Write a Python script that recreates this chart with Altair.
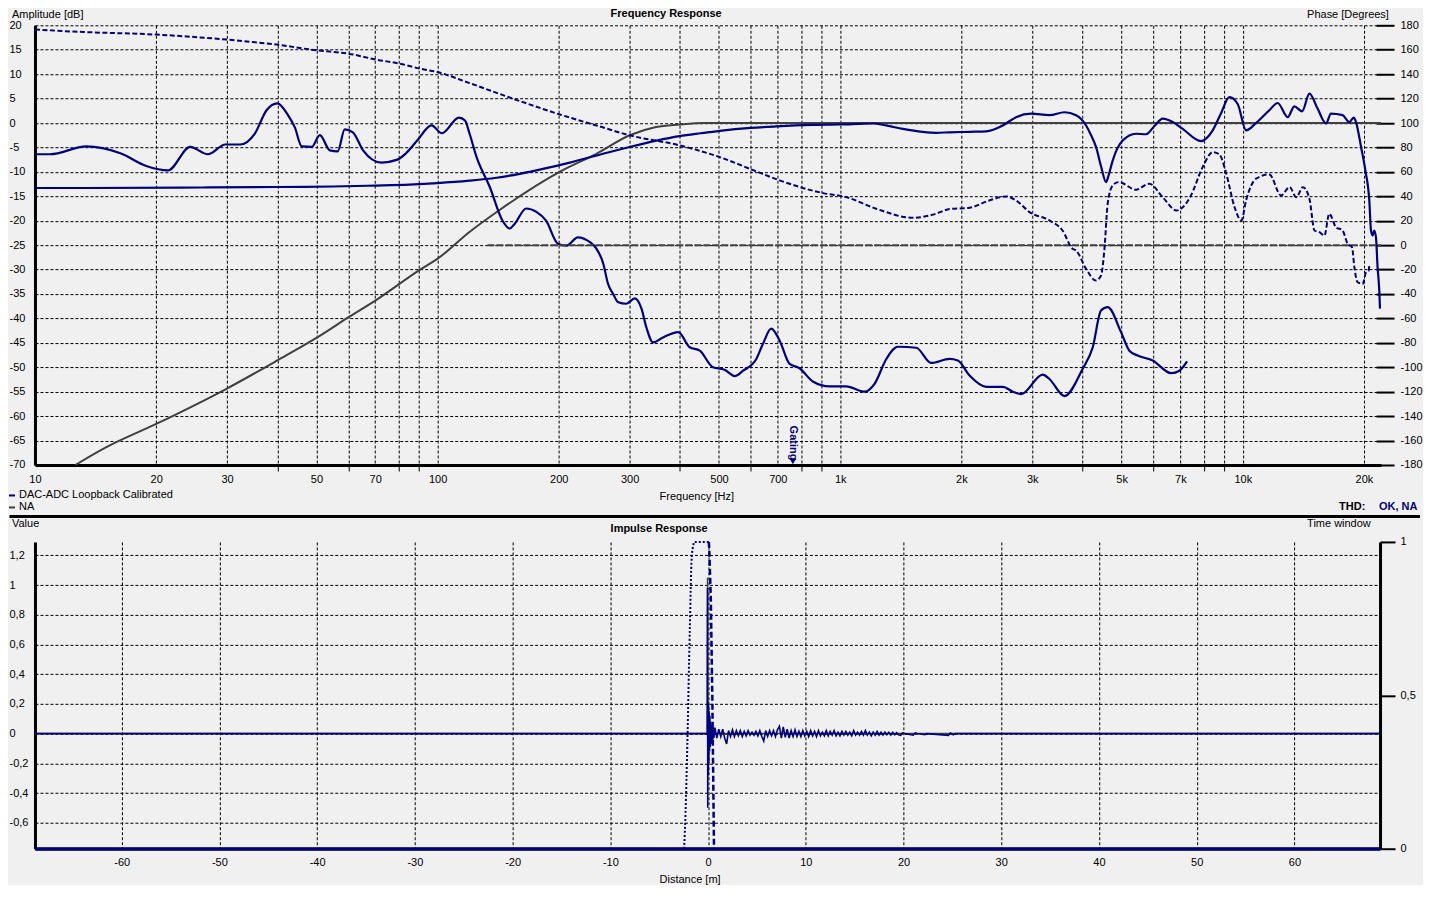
import altair as alt
import pandas as pd

NAVY = "#000080"
GRAY = "#404040"
FONT = "Liberation Sans"

# ---------------- Frequency response data ----------------
# DAC-ADC Loopback Calibrated - amplitude [dB]
amp_freq = [10, 13.4, 26, 40, 55, 70, 85, 100, 120, 140, 160, 185, 213, 250, 300, 350, 399, 450, 502, 600,
            694, 850, 997, 1206, 1300, 1431, 1600, 1732, 1869, 2100, 2305, 2535, 2735, 2981, 3309, 3606, 3855,
            4081, 4200, 4320, 4450, 4575, 4650, 4752, 5030, 5430, 5750, 6050, 6324, 6700, 7090, 7876, 8420,
            8820, 9262, 9714, 10190, 10790, 11640, 12210, 12930, 13430, 14040, 14640, 15350, 16100, 16560,
            17700, 18390, 18860, 19110, 19670, 20160, 20620, 20820, 21010, 21210, 21420, 21620, 21830, 21920]
amp_db = [-13.3, -13.3, -13.2, -13.1, -13.0, -12.8, -12.6, -12.3, -11.8, -11.2, -10.4, -9.3, -8.1, -6.6, -4.9,
          -3.6, -2.7, -2.1, -1.6, -1.0, -0.7, -0.4, -0.3, -0.1, -0.5, -1.2, -1.8, -2.0, -1.9, -1.8, -1.7, -0.5,
          1.2, 1.9, 1.6, 2.2, 1.6, -0.5, -2.5, -4.9, -9.0, -12.1, -10.5, -7.7, -3.6, -2.2, -2.3, -0.5, 0.9, 0.2,
          -1.2, -3.7, -1.5, 1.9, 5.3, 3.9, -1.5, 0.0, 2.6, 4.1, 1.2, 3.4, 2.4, 6.0, 2.9, -0.1, 1.9, 1.6, 0.2,
          1.1, 0.2, -4.9, -9.7, -15.9, -22.0, -23.0, -22.0, -23.4, -29.5, -34.3, -38.0]

# second navy solid trace [dB]
dist_freq = [10, 10.9, 13.4, 16.3, 18.9, 21.4, 24.3, 26.9, 29.7, 32.3, 35.2, 37.6, 40, 42.5, 44.2, 46, 48.7, 51,
             54, 56.5, 58.8, 61.6, 65.3, 72.5, 79.5, 83.5, 89, 96.6, 102.5, 113, 117, 120, 125, 134.8, 145, 151,
             155.5, 166, 176, 186, 199, 209, 223, 239, 248, 258, 265, 273, 281, 294, 309, 321, 330, 343, 363,
             396, 423, 448, 483, 516, 547, 574, 619, 643, 674, 707, 749, 793, 855, 941, 1035, 1150, 1217, 1302,
             1391, 1545, 1683, 1869, 1960, 2096, 2305, 2535, 2684, 2815, 3185, 3309, 3606, 4003, 4240, 4445,
             4618, 4985, 5228, 5483, 5974, 6637, 6960, 7272]
dist_db = [-6.4, -6.4, -4.8, -6.2, -8.8, -9.7, -4.9, -6.4, -4.4, -4.4, -2.1, 2.6, 4.0, 1.6, -0.9, -4.8, -4.9,
           -2.5, -5.6, -5.8, -1.3, -1.9, -5.6, -8.1, -7.5, -6.2, -3.6, -0.5, -2.1, 1.1, 0.5, -2.1, -7.0, -13.1,
           -20.0, -21.6, -20.6, -17.5, -18.2, -20.0, -24.7, -25.1, -23.4, -24.4, -25.7, -28.8, -32.9, -35.0,
           -36.7, -37.0, -35.9, -38.0, -41.8, -44.9, -43.9, -42.8, -45.9, -46.6, -50.0, -50.5, -51.8, -50.7,
           -48.3, -45.2, -42.1, -44.5, -49.3, -50.2, -52.9, -53.9, -53.9, -55.0, -53.4, -48.3, -45.8, -46.0,
           -49.1, -48.3, -48.6, -51.7, -54.0, -54.0, -55.0, -55.5, -51.5, -52.4, -55.9, -50.3, -45.9, -38.4,
           -37.7, -42.8, -46.6, -47.6, -48.6, -51.2, -50.7, -48.8]

# NA target amplitude [dB]
na_freq = [12.6, 15, 20, 29.9, 40, 50, 60, 70.5, 90.5, 99.9, 120, 142, 202, 248, 300, 349, 399, 456, 22050]
na_db = [-70, -66.4, -61.6, -54.4, -48.6, -44.0, -39.8, -36.2, -30.0, -27.8, -22.3, -17.9, -9.9, -6.3, -2.5,
         -0.8, -0.3, 0, 0]

# phase [degrees]
phase_freq = [10, 13.2, 20, 29.9, 39.8, 50, 60, 70.5, 80.5, 90.5, 99.9, 120, 154, 202, 248, 300, 399, 502, 610,
              707, 907, 1035, 1229, 1514, 1700, 1869, 2096, 2345, 2584, 2735, 2954, 3309, 3567, 3776, 3855,
              4081, 4320, 4445, 4530, 4618, 4752, 4920, 5430, 5860, 6324, 6845, 7400, 7950, 8420, 8750, 9100,
              9540, 9920, 10190, 10790, 11640, 12450, 13070, 13580, 14110, 14640, 15070, 15500, 15950, 16400,
              17040, 17700, 18220, 18680, 18930, 19290, 19850, 20240, 20540, 20620]
phase_deg = [176.5, 174.5, 172.4, 168.3, 164.2, 159.5, 156.8, 151.9, 148.6, 144.5, 141.7, 132.7, 119.9, 106.8,
             98.0, 89.9, 81.7, 72.1, 61.2, 53.0, 42.6, 39.3, 29.8, 22.4, 25.0, 29.5, 30.6, 36.6, 39.9, 36.6,
             27.0, 20.2, 12.0, -3.0, -4.4, -19.4, -29.0, -24.9, -4.4, 33.9, 48.9, 51.6, 45.4, 50.3, 39.3, 28.4,
             39.3, 63.9, 76.2, 74.3, 58.5, 31.1, 20.2, 36.6, 54.4, 57.9, 40.7, 47.5, 39.3, 47.5, 38.0, 12.0,
             10.6, 7.9, 25.7, 14.7, 12.0, 1.1, -1.7, -18.0, -30.4, -31.7, -22.2, -20.8, -16.7]

# NA target phase [degrees]
na_phase_freq = [133, 22050]
na_phase_deg = [0, 0]

# gating marker
gating_freq = [763]
gating_marker_db = [-69.3]
gating_text_db = [-65.5]

freq_grid = [10, 20, 30, 40, 50, 60, 70, 80, 90, 100, 200, 300, 400, 500, 600, 700, 800, 900,
             1000, 2000, 3000, 4000, 5000, 6000, 7000, 8000, 9000, 10000, 20000]
db_ticks = [-70, -65, -60, -55, -50, -45, -40, -35, -30, -25, -20, -15, -10, -5, 0, 5, 10, 15, 20]
phase_ticks = [-180, -160, -140, -120, -100, -80, -60, -40, -20, 0, 20, 40, 60, 80, 100, 120, 140, 160, 180]

# ---------------- Impulse response data ----------------
spike_dist = [-68.87, -0.08, -0.05, -0.03, -0.01, 0.02, 0.05, 0.08, 0.11, 0.15, 0.19, 0.23, 0.27, 0.31, 0.35,
              0.4, 0.45, 0.5, 0.55, 0.6]
spike_val = [0, 0, 0.98, -0.5, 0.22, -0.28, 0.2, -0.2, 0.15, -0.12, 0.12, -0.09, 0.08, -0.07, 0.06, -0.05,
             0.05, -0.04, 0.04, -0.03]
noise_start = 0.7
noise_step = 0.2
noise_val = [0.04, -0.03, 0.03, -0.02, 0.03, -0.03, -0.07, 0.02, -0.02, 0.025, -0.02, 0.02, -0.015, 0.02,
             -0.02, 0.015, -0.015, 0.02, -0.01, 0.01, -0.01, 0.015, -0.015, 0.02, -0.02, -0.05, 0.02, -0.02,
             0.02, -0.015, 0.02, -0.02, 0.025, 0.05, -0.03, 0.045, -0.025, 0.03, -0.03, 0.02, -0.02, 0.025,
             -0.02, 0.015, -0.02, 0.02, -0.015, 0.015, -0.02, 0.02, -0.015, 0.015, -0.02, 0.02, -0.015, 0.01,
             -0.015, 0.02, -0.015, 0.015, -0.01, 0.02, -0.015, 0.01, -0.015, 0.015, -0.01, 0.015, -0.01, 0.01,
             -0.015, 0.02, -0.01, 0.01, -0.01, 0.015, -0.01, 0.02, -0.01, 0.01, -0.015, 0.01, -0.01, 0.015,
             -0.01, 0.01, -0.01, 0.01, -0.008, 0.008, -0.01, 0.008, -0.008, 0.006, -0.008, -0.012, 0.004, 0.0]
tail_dist = [21.0, 21.2, 21.4, 22.2, 22.4, 24.6, 24.8, 25.1, 25.3, 68.76]
tail_val = [-0.01, 0.005, 0.0, -0.008, 0.0, -0.012, 0.004, -0.008, 0.0, 0.0]

na_imp_dist = [-68.87, -0.07, -0.05, -0.03, 68.76]
na_imp_val = [0, 0, 1.05, 0, 0]

win_base_dist = [-68.87, 68.76]
win_base_val = [0, 0]
win_left_dist = [-2.45, -2.3, -2.12, -1.87, -1.67, -1.5, -1.43, 0.08]
win_left_val = [0.0, 0.12, 0.34, 0.71, 0.95, 0.99, 1.0, 1.0]
win_right_dist = [0.08, 0.12, 0.28, 0.44, 0.61]
win_right_val = [1.0, 0.98, 0.82, 0.49, 0.0]

dist_ticks = [-60, -50, -40, -30, -20, -10, 0, 10, 20, 30, 40, 50, 60]
value_ticks = [-0.6, -0.4, -0.2, 0, 0.2, 0.4, 0.6, 0.8, 1, 1.2]
window_ticks = [0, 0.5, 1]

imp_dist = spike_dist + [round(noise_start + noise_step * i, 2) for i in range(len(noise_val))] + tail_dist
imp_val = spike_val + noise_val + tail_val

# ---------------- helpers ----------------
one = pd.DataFrame({"k": [0]})


def txt(s, x, y, color="black", bold=False):
    return alt.Chart(one).mark_text(
        text=s, font=FONT, fontSize=11, fontWeight=("bold" if bold else "normal"),
        color=color, align="left", baseline="middle"
    ).encode(x=alt.value(x), y=alt.value(y))


def hrule(x1, x2, y, color, width, opacity=1.0):
    return alt.Chart(one).mark_rule(color=color, strokeWidth=width, opacity=opacity).encode(
        x=alt.value(x1), x2=alt.value(x2), y=alt.value(y))


def line(xs, ys, xname, yname, xenc, yenc, color, width=2.0, dash=None, clip=True, interp="linear"):
    d = pd.DataFrame({xname: xs, yname: ys})
    kw = dict(color=color, strokeWidth=width, clip=clip, interpolate=interp)
    if dash:
        kw["strokeDash"] = dash
    return alt.Chart(d).mark_line(**kw).encode(x=xenc, y=yenc)


GRID = dict(grid=True, gridColor="black", gridDash=[3, 2], gridWidth=1, gridOpacity=1)

labeled = "[10,20,30,50,70,100,200,300,500,700,1000,2000,3000,5000,7000,10000,20000]"
x_freq = alt.X(
    "f:Q",
    scale=alt.Scale(type="log", domain=[10, 22050], nice=False, zero=False),
    axis=alt.Axis(
        values=freq_grid, title=None, **GRID,
        domainColor="black", domainWidth=3,
        ticks=True, tickSize=6, tickColor="black", tickWidth=1,
        tickOpacity={"condition": {"test": f"indexof({labeled}, datum.value) >= 0", "value": 0}, "value": 1},
        labelExpr=("indexof([10,20,30,50,70,100,200,300,500,700], datum.value) >= 0 ? ''+datum.value : "
                   "(indexof([1000,2000,3000,5000,7000,10000,20000], datum.value) >= 0 ? "
                   "(datum.value/1000)+'k' : '')"),
        labelFlush=False, labelOverlap=False, labelPadding=3,
    ),
)
y_db = alt.Y(
    "db:Q",
    scale=alt.Scale(domain=[-70, 20], nice=False, zero=False),
    axis=alt.Axis(values=db_ticks, title=None, **GRID, domainColor="black", domainWidth=3,
                  ticks=False, tickSize=0, labelAlign="left", labelBaseline="middle", labelPadding=26,
                  labelExpr="''+datum.value", labelFlush=False, labelOverlap=False),
)
y_ph = alt.Y(
    "deg:Q",
    scale=alt.Scale(domain=[-180, 180], nice=False, zero=False),
    axis=alt.Axis(orient="right", values=phase_ticks, title=None, grid=False, domain=False,
                  ticks=True, tickSize=18, tickWidth=2, tickColor="black", offset=-5,
                  labelPadding=6, labelAlign="left", labelBaseline="middle",
                  labelExpr="''+datum.value", labelFlush=False, labelOverlap=False),
)

gate_pt = alt.Chart(pd.DataFrame({"f": gating_freq, "db": gating_marker_db})).mark_point(
    shape="triangle-down", filled=True, size=40, color=NAVY, opacity=1).encode(x=x_freq, y=y_db)
gate_txt = alt.Chart(pd.DataFrame({"f": gating_freq, "db": gating_text_db})).mark_text(
    text="Gating", angle=90, font=FONT, fontSize=11, fontWeight="bold", color=NAVY,
    align="center", baseline="middle").encode(x=x_freq, y=y_db)

group_amp = alt.layer(
    line(na_freq, na_db, "f", "db", x_freq, y_db, GRAY, 2.0, interp="monotone"),
    line(amp_freq, amp_db, "f", "db", x_freq, y_db, NAVY, 2.2, interp="monotone"),
    line(dist_freq, dist_db, "f", "db", x_freq, y_db, NAVY, 2.2, interp="monotone"),
    gate_pt, gate_txt,
)
group_phase = alt.layer(
    line(na_phase_freq, na_phase_deg, "f", "deg", x_freq, y_ph, GRAY, 2.0, dash=[7, 2]),
    line(phase_freq, phase_deg, "f", "deg", x_freq, y_ph, NAVY, 2.0, dash=[5, 2.5], interp="monotone"),
)

top = alt.layer(
    group_amp, group_phase,
    hrule(-26.5, 0, -16, "black", 1, opacity=0),
    txt("Amplitude [dB]", -23, -10.5),
    txt("Frequency Response", 576, -11, bold=True),
    txt("Phase [Degrees]", 1273, -10.5),
    txt("Frequency [Hz]", 625, 472.5),
    hrule(-26, -20, 470.5, NAVY, 2),
    txt("DAC-ADC Loopback Calibrated", -16, 470.5),
    hrule(-26, -20, 482.5, GRAY, 2),
    txt("NA", -16, 482.5),
    txt("THD:", 1305, 482.5, bold=True),
    txt("OK, NA", 1345, 482.5, color=NAVY, bold=True),
    hrule(-25.5, 1386, 491.5, "black", 3),
).resolve_scale(y="independent").properties(width=1347, height=440)

# ---------------- bottom panel ----------------
x_dist = alt.X(
    "d:Q",
    scale=alt.Scale(domain=[-68.87, 68.76], nice=False, zero=False),
    axis=alt.Axis(values=dist_ticks, title=None, **GRID, domainColor="black", domainWidth=3,
                  ticks=False, tickSize=0, labelPadding=8, labelExpr="''+datum.value",
                  labelFlush=False, labelOverlap=False),
)
y_val = alt.Y(
    "v:Q",
    scale=alt.Scale(domain=[-0.775, 1.29], nice=False, zero=False),
    axis=alt.Axis(values=value_ticks, title=None, **GRID, domainColor="black", domainWidth=3,
                  ticks=False, tickSize=0, labelAlign="left", labelBaseline="middle", labelPadding=26,
                  labelExpr="replace(''+datum.value, '.', ',')", labelFlush=False, labelOverlap=False),
)
y_win = alt.Y(
    "w:Q",
    scale=alt.Scale(domain=[0, 1], nice=False, zero=False),
    axis=alt.Axis(orient="right", values=window_ticks, title=None, grid=False, domain=True,
                  domainColor="black", domainWidth=3, ticks=True, tickSize=15, tickWidth=2,
                  tickColor="black", labelPadding=5, labelAlign="left", labelBaseline="middle",
                  labelExpr="replace(''+datum.value, '.', ',')", labelFlush=False, labelOverlap=False),
)

group_imp = alt.layer(
    line(na_imp_dist, na_imp_val, "d", "v", x_dist, y_val, GRAY, 1.5, clip=False),
    line(imp_dist, imp_val, "d", "v", x_dist, y_val, NAVY, 1.6, clip=False),
)
group_win = alt.layer(
    line(win_base_dist, win_base_val, "d", "w", x_dist, y_win, NAVY, 3, clip=False),
    line(win_left_dist, win_left_val, "d", "w", x_dist, y_win, NAVY, 2, dash=[2, 2], clip=False,
         interp="monotone"),
    line(win_right_dist, win_right_val, "d", "w", x_dist, y_win, NAVY, 2.5, dash=[6, 3], clip=False),
)

bottom = alt.layer(
    group_imp, group_win,
    txt("Value", -23, -17.5),
    txt("Impulse Response", 576, -12.5, bold=True),
    txt("Time window", 1273, -17.5),
    txt("Distance [m]", 625, 338),
).resolve_scale(y="independent").properties(width=1346, height=307)

chart = alt.vconcat(top, bottom, spacing=77, bounds="flush").properties(
    padding=0
).configure(background="#f0f0f0").configure_view(stroke=None).configure_axis(
    labelFont=FONT, labelFontSize=11, labelColor="black", labelFontWeight="normal"
)

chart.save("out.html", embed_options={"renderer": "svg", "actions": False})
